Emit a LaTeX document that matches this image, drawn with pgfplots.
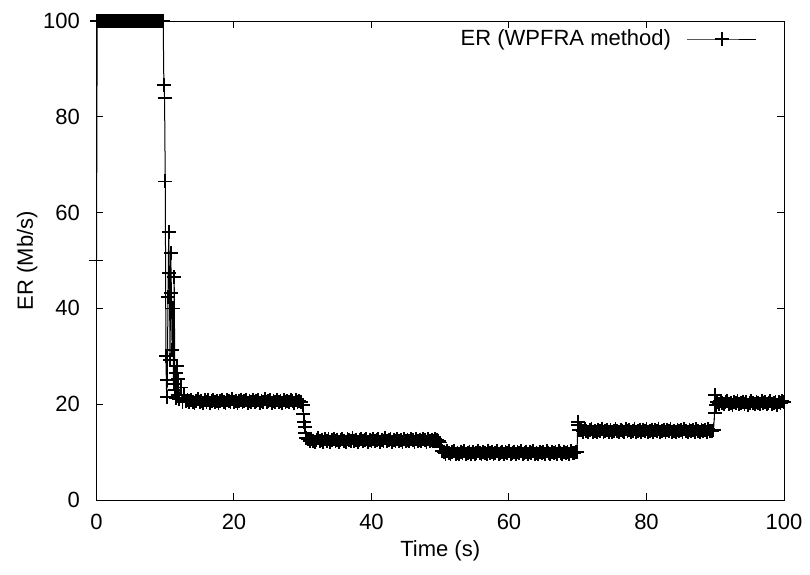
\documentclass[border=0pt]{standalone}
\usepackage{fontspec}
\setmainfont{Liberation Sans}
\usepackage{pgfplots}
\pgfplotsset{compat=1.18}
\begin{document}
\begin{tikzpicture}[font=\fontsize{11}{13.2}\selectfont]
\begin{axis}[
  scale only axis,
  width=343.75pt, height=239.5pt,
  xmin=0, xmax=100, ymin=0, ymax=100,
  xtick={0,20,...,100}, ytick={0,20,...,100},
  tick pos=both, tick align=inside,
  major tick length=3.5pt,
  axis line style={line width=0.5pt},
  every tick/.style={black, line width=0.5pt},
  /pgf/number format/assume math mode=true,
  xticklabel style={yshift=-3.5pt},
  yticklabel style={xshift=-4.8pt},
  clip=false,
  xlabel={Time (s)}, ylabel={ER (Mb/s)},
  every axis x label/.style={at={(axis description cs:0.5,-0.1065)}, anchor=center},
  every axis y label/.style={at={(axis description cs:-0.101,0.5)}, rotate=90, anchor=center},
  legend plot pos=right,
  legend style={draw=none, fill=none, inner sep=0pt, outer sep=0pt,
    nodes={inner sep=0pt}, column sep=8pt,
    at={(axis description cs:1,1)}, anchor=east, xshift=-13.5pt, yshift=-9pt},
  legend image code/.code={\draw[mark repeat=2,mark phase=2,#1] plot coordinates {(0pt,0pt) (17.25pt,0pt) (34.5pt,0pt)};},
]
\addplot[black, line width=0.5pt, mark=+, mark size=3.5pt, mark options={line width=0.9pt}] coordinates {
(0,50) (0.1,100) (0.25,100) (0.5,100) (0.75,100) (1,100) (1.25,100) (1.5,100) (1.75,100) (2,100)
(2.25,100) (2.5,100) (2.75,100) (3,100) (3.25,100) (3.5,100) (3.75,100) (4,100) (4.25,100) (4.5,100)
(4.75,100) (5,100) (5.25,100) (5.5,100) (5.75,100) (6,100) (6.25,100) (6.5,100) (6.75,100) (7,100)
(7.25,100) (7.5,100) (7.75,100) (8,100) (8.25,100) (8.5,100) (8.75,100) (9,100) (9.25,100) (9.5,100) (9.7,100)
(9.8,86.6) (9.9,84.0) (10.0,66.5) (10.1,30.0) (10.2,21.5) (10.3,25.0) (10.4,42.4) (10.5,56.0) (10.6,47.4)
(10.7,29.2) (10.8,51.5) (10.9,43.2) (11.0,31.3) (11.1,40.0) (11.2,24.2) (11.3,46.6) (11.4,23.0) (11.5,26.5)
(11.6,21.3) (11.7,28.0) (11.8,22.0) (11.9,25.3) (12.0,21.0) (12.25,23.5) (12.5,20.4) (12.75,22.0) (13.0,20.6)
(13.25,20.8) (13.5,20.4) (13.75,20.9) (14,20.5) (14.25,20.3) (14.5,20.7) (14.75,21.0) (15,20.4) (15.25,20.6)
(15.5,20.2) (15.75,20.8) (16,20.5) (16.25,20.9) (16.5,20.3) (16.75,20.6) (17,20.8) (17.25,20.4) (17.5,20.7)
(17.75,20.2) (18,20.6) (18.25,20.9) (18.5,20.5) (18.75,20.3) (19,20.8) (19.25,20.6) (19.5,20.4) (19.75,21.0)
(20,20.5) (20.25,20.7) (20.5,20.3) (20.75,20.6) (21,20.9) (21.25,20.4) (21.5,20.6) (21.75,20.8) (22,20.2)
(22.25,20.7) (22.5,20.5) (22.75,20.9) (23,20.4) (23.25,20.6) (23.5,20.8) (23.75,20.3) (24,20.7) (24.25,20.5)
(24.5,21.0) (24.75,20.4) (25,20.6) (25.25,20.8) (25.5,20.3) (25.75,20.7) (26,20.5) (26.25,20.9) (26.5,20.4)
(26.75,20.6) (27,20.2) (27.25,20.8) (27.5,20.5) (27.75,20.7) (28,20.4) (28.25,20.9) (28.5,20.6) (28.75,20.3)
(29,20.8) (29.25,20.5) (29.5,20.7) (29.75,20.4)
(30.0,19.8) (30.1,18.0) (30.2,16.3) (30.3,15.2) (30.4,14.0) (30.5,13.0)
(30.75,12.7) (31,12.3) (31.25,12.8) (31.5,12.4) (31.75,12.2) (32,12.6) (32.25,12.9) (32.5,12.3) (32.75,12.5)
(33,12.1) (33.25,12.7) (33.5,12.4) (33.75,12.8) (34,12.2) (34.25,12.5) (34.5,12.7) (34.75,12.3) (35,12.6)
(35.25,12.1) (35.5,12.5) (35.75,12.8) (36,12.4) (36.25,12.2) (36.5,12.7) (36.75,12.5) (37,12.3) (37.25,12.9)
(37.5,12.4) (37.75,12.6) (38,12.2) (38.25,12.5) (38.5,12.8) (38.75,12.3) (39,12.5) (39.25,12.7) (39.5,12.1)
(39.75,12.6) (40,12.4) (40.25,12.8) (40.5,12.3) (40.75,12.5) (41,12.7) (41.25,12.2) (41.5,12.6) (41.75,12.4)
(42,12.9) (42.25,12.3) (42.5,12.5) (42.75,12.7) (43,12.2) (43.25,12.6) (43.5,12.4) (43.75,12.8) (44,12.3)
(44.25,12.5) (44.5,12.1) (44.75,12.7) (45,12.4) (45.25,12.6) (45.5,12.3) (45.75,12.8) (46,12.5) (46.25,12.2)
(46.5,12.7) (46.75,12.4) (47,12.6) (47.25,12.3) (47.5,12.8) (47.75,12.5) (48,12.2) (48.25,12.7) (48.5,12.4)
(48.75,12.6) (49,12.3) (49.25,12.8) (49.5,12.5) (49.75,12.4)
(50.0,12.0) (50.1,11.0) (50.2,10.3)
(50.5,10.1) (50.75,9.7) (51,10.2) (51.25,9.8) (51.5,9.6) (51.75,10.0) (52,10.3) (52.25,9.7) (52.5,9.9)
(52.75,9.5) (53,10.1) (53.25,9.8) (53.5,10.2) (53.75,9.6) (54,9.9) (54.25,10.1) (54.5,9.7) (54.75,10.0)
(55,9.5) (55.25,9.9) (55.5,10.2) (55.75,9.8) (56,9.6) (56.25,10.1) (56.5,9.9) (56.75,9.7) (57,10.3)
(57.25,9.8) (57.5,10.0) (57.75,9.6) (58,9.9) (58.25,10.2) (58.5,9.7) (58.75,9.9) (59,10.1) (59.25,9.5)
(59.5,10.0) (59.75,9.8) (60,10.2) (60.25,9.7) (60.5,9.9) (60.75,10.1) (61,9.6) (61.25,10.0) (61.5,9.8)
(61.75,10.3) (62,9.7) (62.25,9.9) (62.5,10.1) (62.75,9.6) (63,10.0) (63.25,9.8) (63.5,10.2) (63.75,9.7)
(64,9.9) (64.25,9.5) (64.5,10.1) (64.75,9.8) (65,10.0) (65.25,9.7) (65.5,10.2) (65.75,9.9) (66,9.6)
(66.25,10.1) (66.5,9.8) (66.75,10.0) (67,9.7) (67.25,10.2) (67.5,9.9) (67.75,9.6) (68,10.1) (68.25,9.8)
(68.5,10.0) (68.75,9.7) (69,10.2) (69.25,9.9) (69.5,9.8) (69.75,10.0) (69.9,10.0)
(70.0,16.3) (70.1,15.7) (70.2,14.6)
(70.5,14.7) (70.75,14.3) (71,14.8) (71.25,14.4) (71.5,14.2) (71.75,14.6) (72,14.9) (72.25,14.3) (72.5,14.5)
(72.75,14.1) (73,14.7) (73.25,14.4) (73.5,14.8) (73.75,14.2) (74,14.5) (74.25,14.7) (74.5,14.3) (74.75,14.6)
(75,14.1) (75.25,14.5) (75.5,14.8) (75.75,14.4) (76,14.2) (76.25,14.7) (76.5,14.5) (76.75,14.3) (77,14.9)
(77.25,14.4) (77.5,14.6) (77.75,14.2) (78,14.5) (78.25,14.8) (78.5,14.3) (78.75,14.5) (79,14.7) (79.25,14.1)
(79.5,14.6) (79.75,14.4) (80,14.8) (80.25,14.3) (80.5,14.5) (80.75,14.7) (81,14.2) (81.25,14.6) (81.5,14.4)
(81.75,14.9) (82,14.3) (82.25,14.5) (82.5,14.7) (82.75,14.2) (83,14.6) (83.25,14.4) (83.5,14.8) (83.75,14.3)
(84,14.5) (84.25,14.1) (84.5,14.7) (84.75,14.4) (85,14.6) (85.25,14.3) (85.5,14.8) (85.75,14.5) (86,14.2)
(86.25,14.7) (86.5,14.4) (86.75,14.6) (87,14.3) (87.25,14.8) (87.5,14.5) (87.75,14.2) (88,14.7) (88.25,14.4)
(88.5,14.6) (88.75,14.3) (89,14.8) (89.25,14.5) (89.5,14.4) (89.75,14.6)
(89.9,18.2) (90.0,21.9) (90.1,19.8)
(90.25,20.5) (90.5,20.1) (90.75,20.6) (91,20.2) (91.25,20.0) (91.5,20.4) (91.75,20.7) (92,20.1) (92.25,20.3)
(92.5,19.9) (92.75,20.5) (93,20.2) (93.25,20.6) (93.5,20.0) (93.75,20.3) (94,20.5) (94.25,20.1) (94.5,20.4)
(94.75,19.9) (95,20.3) (95.25,20.6) (95.5,20.2) (95.75,20.0) (96,20.5) (96.25,20.3) (96.5,20.1) (96.75,20.7)
(97,20.2) (97.25,20.4) (97.5,20.0) (97.75,20.3) (98,20.6) (98.25,20.1) (98.5,20.3) (98.75,20.5) (99,19.9)
(99.25,20.4) (99.5,20.2) (99.75,20.6) (100,20.5)
};
\addlegendentry{ER (WPFRA method)}
\end{axis}
\pgfresetboundingbox
\path ([shift={(-48.25pt,-37pt)}]current axis.south west) rectangle ([shift={(13pt,10.5pt)}]current axis.north east);
\end{tikzpicture}
\end{document}
